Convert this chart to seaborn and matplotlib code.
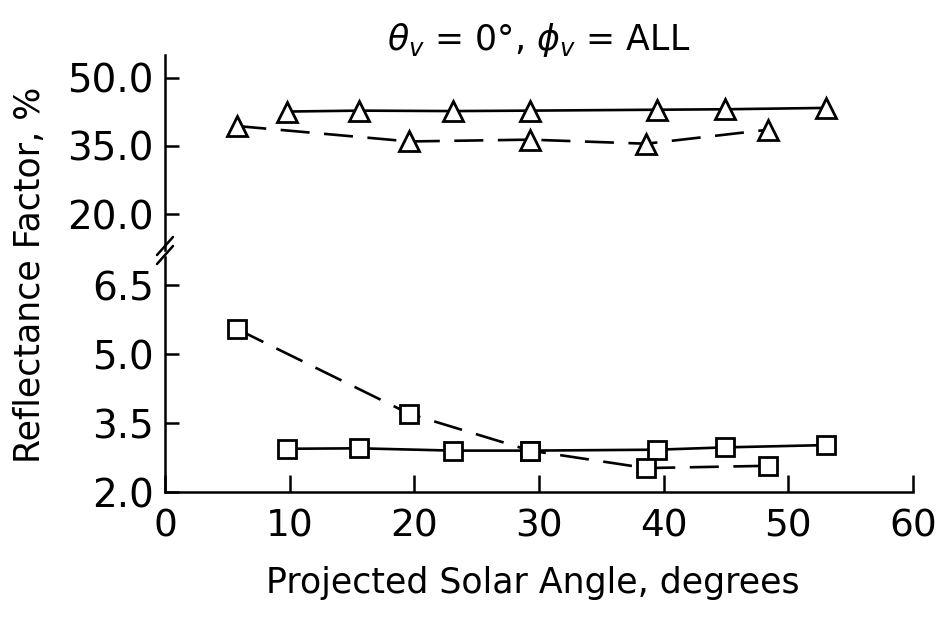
import matplotlib
matplotlib.use("Agg")
import matplotlib.pyplot as plt
import seaborn as sns
import pandas as pd
from matplotlib.lines import Line2D

# ---- data ----
x_solid = [9.8, 15.6, 23.1, 29.3, 39.5, 44.9, 53.0]
x_dashed = [5.8, 19.6, 29.3, 38.6, 48.4]
tri_solid = [42.6, 42.8, 42.7, 42.8, 43.0, 43.1, 43.4]
tri_dashed = [39.4, 36.0, 36.4, 35.5, 38.6]
sq_solid = [2.94, 2.95, 2.90, 2.90, 2.92, 2.97, 3.02]
sq_dashed = [5.54, 3.70, 2.90, 2.52, 2.57]
x_ticks = [0, 10, 20, 30, 40, 50, 60]
top_ticks = [20.0, 35.0, 50.0]
bot_ticks = [2.0, 3.5, 5.0, 6.5]

sns.set_theme(style="white")
plt.rcParams['font.family'] = ['DejaVu Sans']

W, H = 942, 622
fig = plt.figure(figsize=(W / 100, H / 100), dpi=100)

def fx(px):
    return px / W

def fy(py):
    return 1 - py / H

left, right = 165, 913
ax_top = fig.add_axes([fx(left), fy(250), fx(right - left), fy(55) - fy(250)])
ax_bot = fig.add_axes([fx(left), fy(492), fx(right - left), fy(257) - fy(492)])

lw = 1.9
dash = (0, (11, 5.5))
mk = dict(markerfacecolor='white', markeredgecolor='black', markeredgewidth=2.0)

sns.lineplot(x=x_solid, y=tri_solid, ax=ax_top, color='black', linewidth=lw,
             marker='^', markersize=15, linestyle='-', **mk)
sns.lineplot(x=x_dashed, y=tri_dashed, ax=ax_top, color='black', linewidth=lw,
             marker='^', markersize=15, linestyle=dash, **mk)
sns.lineplot(x=x_solid, y=sq_solid, ax=ax_bot, color='black', linewidth=lw,
             marker='s', markersize=12.5, linestyle='-', **mk)
sns.lineplot(x=x_dashed, y=sq_dashed, ax=ax_bot, color='black', linewidth=lw,
             marker='s', markersize=12.5, linestyle=dash, **mk)

for ax in (ax_top, ax_bot):
    ax.set_xlim(0, 60)
    ax.set_facecolor('white')
    for s in ('top', 'right'):
        ax.spines[s].set_visible(False)
    ax.spines['left'].set_color('black')
    ax.spines['left'].set_linewidth(1.8)
    ax.tick_params(axis='y', direction='in', length=10, width=1.8,
                   labelsize=28, pad=8, left=True, colors='black')

ax_top.spines['bottom'].set_visible(False)
ax_top.set_xticks([])
ax_top.set_ylim(12.06, 55.07)
ax_top.set_yticks(top_ticks)
ax_top.set_yticklabels([f"{v:.1f}" for v in top_ticks])

ax_bot.set_ylim(2.0, 7.11)
ax_bot.set_yticks(bot_ticks)
ax_bot.set_yticklabels([f"{v:.1f}" for v in bot_ticks])
ax_bot.spines['bottom'].set_color('black')
ax_bot.spines['bottom'].set_linewidth(1.8)
ax_bot.set_xticks(x_ticks)
ax_bot.set_xticklabels([str(v) for v in x_ticks])
ax_bot.tick_params(axis='x', direction='in', length=12, width=1.8,
                   labelsize=27, pad=12, bottom=True, colors='black')
ax_bot.set_xlabel('')
ax_bot.set_ylabel('')
ax_top.set_ylabel('')

# axis break marks
for dy in (0, 9):
    fig.add_artist(Line2D([fx(157), fx(173)], [fy(264 - dy), fy(246 - dy)],
                          color='black', linewidth=1.8))

fig.text(fx(539), fy(40), r'$\theta_v$ = 0°, $\phi_v$ = ALL', ha='center', va='center',
         fontsize=25, color='black')
fig.text(fx(533), fy(583), 'Projected Solar Angle, degrees', ha='center', va='center',
         fontsize=25, color='black')
fig.text(fx(30), fy(275), 'Reflectance Factor, %', ha='center', va='center',
         rotation=90, fontsize=25, color='black')

fig.savefig('out.png', dpi=100, facecolor='white')
